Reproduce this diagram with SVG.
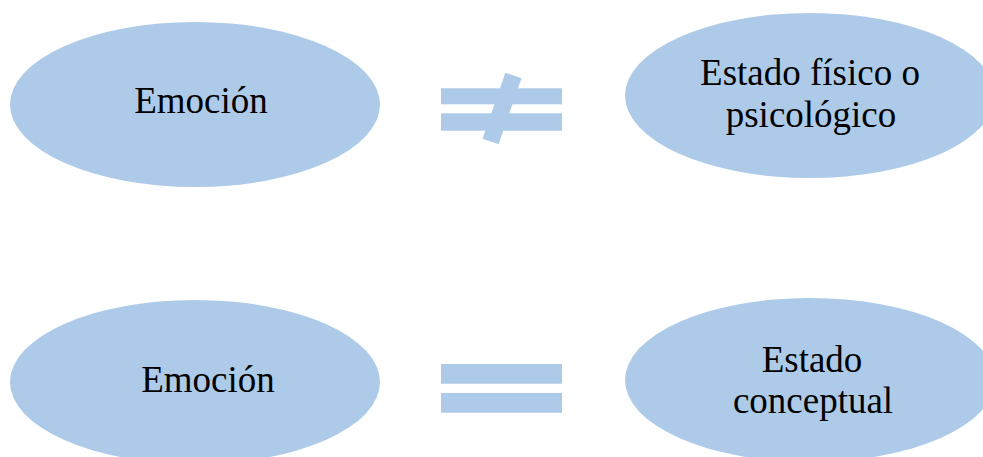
<svg xmlns="http://www.w3.org/2000/svg" width="983" height="457" viewBox="0 0 983 457">
<style>
.n{fill:#adcbe9;}
.s{fill:#adcbe9;}
.t{font-family:"Liberation Serif","Times New Roman",serif;font-size:37px;fill:#000;}
.m{text-anchor:middle;}
</style>
<rect width="983" height="457" fill="#ffffff"/>
<g id="node-emocion-1">
<ellipse class="n" cx="195" cy="104.5" rx="185" ry="82.5"/>
<text class="t m" x="201" y="113">Emoción</text>
</g>
<g id="node-estado-fisico">
<ellipse class="n" cx="810" cy="95.5" rx="185" ry="82.5"/>
<text class="t m" x="810" y="85">Estado físico o</text>
<text class="t m" x="811" y="126.5">psicológico</text>
</g>
<g id="node-emocion-2">
<ellipse class="n" cx="195" cy="382" rx="185" ry="82"/>
<text class="t m" x="208" y="391.5">Emoción</text>
</g>
<g id="node-estado-conceptual">
<ellipse class="n" cx="810" cy="380" rx="185" ry="82"/>
<text class="t m" x="812" y="371.5">Estado</text>
<text class="t m" x="813" y="413">conceptual</text>
</g>
<g id="connectors">
<g id="not-equal">
<rect class="s" x="441" y="88.3" width="121" height="16"/>
<rect class="s" x="441" y="113.3" width="121" height="17.4"/>
<rect class="s" x="493.5" y="73.5" width="17" height="70" transform="rotate(19 502 108.5)"/>
</g>
<g id="equal">
<rect class="s" x="441" y="364" width="121" height="19.7"/>
<rect class="s" x="441" y="393" width="121" height="19.7"/>
</g>
</g>
</svg>
